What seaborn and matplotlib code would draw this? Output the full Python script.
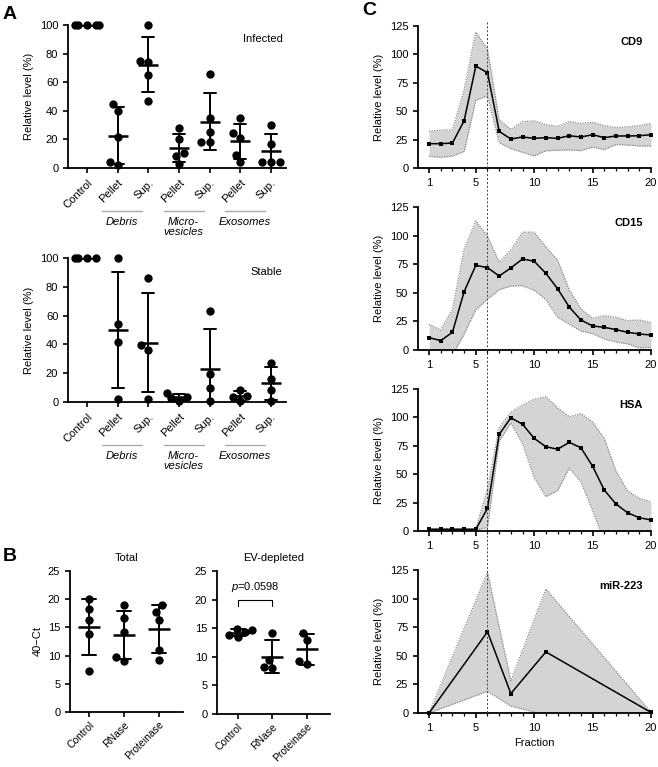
import numpy as np
import pandas as pd
import matplotlib
matplotlib.use("Agg")
import matplotlib.pyplot as plt
from matplotlib.lines import Line2D
from matplotlib.transforms import blended_transform_factory
from matplotlib.ticker import MultipleLocator
import seaborn as sns

sns.set_theme(style="ticks", rc={"axes.edgecolor": "black", "text.color": "black",
                                 "xtick.color": "black", "ytick.color": "black",
                                 "axes.labelcolor": "black"})
plt.rcParams["font.family"] = ["Liberation Sans", "DejaVu Sans"]
plt.rcParams["font.size"] = 8
plt.rcParams["axes.labelsize"] = 8
plt.rcParams["xtick.labelsize"] = 8
plt.rcParams["ytick.labelsize"] = 8
plt.rcParams["axes.titlesize"] = 8
plt.rcParams["axes.linewidth"] = 1.3
plt.rcParams["xtick.major.width"] = 1.2
plt.rcParams["ytick.major.width"] = 1.2
plt.rcParams["xtick.major.size"] = 3.5
plt.rcParams["ytick.major.size"] = 3.5
plt.rcParams["mathtext.fontset"] = "custom"
plt.rcParams["mathtext.rm"] = "Liberation Sans"
plt.rcParams["mathtext.it"] = "Liberation Sans:italic"

# ---- Panel A: relative level per fraction (infected / stable)
a_groups = ["Control", "Debris Pellet", "Debris Sup.", "MV Pellet", "MV Sup.",
            "Exo Pellet", "Exo Sup."]
a_ticklabels = ["Control", "Pellet", "Sup.", "Pellet", "Sup.", "Pellet", "Sup."]
a_sets = ["Debris", "Micro-\nvesicles", "Exosomes"]

inf_control = [100, 100, 100, 100, 100]
inf_debris_pellet = [40, 45, 22, 2, 4.5]
inf_debris_sup = [100, 74, 75, 65, 47]
inf_mv_pellet = [28, 20, 10.5, 8.5, 3]
inf_mv_sup = [66, 35, 25, 18, 18]
inf_exo_pellet = [35, 24.5, 21, 9, 4]
inf_exo_sup = [30, 17, 4, 4, 4]

sta_control = [100, 100, 100, 100]
sta_debris_pellet = [100, 54.5, 42, 2.3]
sta_debris_sup = [86, 39.8, 36.3, 2.3]
sta_mv_pellet = [3.5, 1, 2.5, 6]
sta_mv_sup = [63, 19.4, 9.4, 0.5]
sta_exo_pellet = [8.5, 4, 3.5, 0.5]
sta_exo_sup = [27.4, 15.7, 8.2, 0.5]

# ---- Panel B: 40-Ct after treatment
b_groups = ["Control", "RNase", "Proteinase"]
tot_control = [20.1, 18.2, 16.3, 13.8, 7.2]
tot_rnase = [19.0, 16.6, 14.1, 9.8, 9.1]
tot_proteinase = [18.9, 17.8, 16.4, 11.0, 9.3]
ev_control = [14.6, 14.9, 14.3, 13.4, 13.8]
ev_rnase = [14.2, 9.4, 8.1, 8.2]
ev_proteinase = [14.2, 12.9, 9.3, 8.8]
p_label = "$p$=0.0598"

# ---- Panel C: SEC fractions, mean and SD
fractions = list(range(1, 21))
cd9_mean = [21.4, 21.4, 22.0, 41.6, 89.7, 83.9, 32.3, 25.5, 27.3, 26.1,
            26.7, 26.1, 28.4, 27.3, 29.3, 26.7, 28.2, 28.2, 28.4, 29.3]
cd9_sd = [11, 12, 11.5, 27, 30, 20.5, 10, 8.5, 13.5, 15.5,
          11.5, 10.5, 12.5, 12, 11, 10.5, 7.5, 8, 9, 10]
cd15_mean = [10.8, 8.2, 15.5, 51, 74, 72, 64.7, 71.7, 79.6, 77.6,
             67, 53.6, 37.6, 26.2, 21, 19.8, 17.8, 15.5, 14, 13.1]
cd15_sd = [11.6, 9.3, 20, 37, 38.8, 27.5, 12, 15.8, 23.4, 25.4,
           23, 25, 15, 9.7, 6.7, 10.2, 10.8, 10.2, 12.2, 10.8]
hsa_mean = [1.5, 1.5, 1.5, 1.5, 1.5, 20, 85, 99.7, 94, 81.5,
            74.2, 72, 78, 73.3, 57, 36, 23.8, 16, 11.7, 9.7]
hsa_sd = [0.5, 0.5, 0.5, 0.5, 0.5, 17, 6, 4.7, 17, 34.5,
          44, 36.5, 22.6, 30, 39, 45.5, 29, 19.2, 17, 16.1]
mir_fractions = [1, 6, 8, 11, 20]
mir_mean = [0, 71, 17, 53.4, 0.5]
mir_sd = [0, 52, 11, 55, 0]
void_fraction = 6


def long_form(groups, values):
    return pd.DataFrame({"group": np.repeat(groups, [len(v) for v in values]),
                         "value": np.concatenate(values)})


fig = plt.figure(figsize=(6.58, 7.67), dpi=100)
W, H = 658, 767


def px_axes(x0, y0, x1, y1):
    return fig.add_axes([x0 / W, 1 - y1 / H, (x1 - x0) / W, (y1 - y0) / H])


def dot_panel(ax, df, order, ticklabels, bar, fs):
    sns.swarmplot(data=df, x="group", y="value", order=order, color="black",
                  size=6, warn_thresh=1, ax=ax, clip_on=False, zorder=3)
    sns.pointplot(data=df, x="group", y="value", order=order, errorbar="sd",
                  capsize=0.4, color="black", linestyle="none", marker="_",
                  markersize=bar, markeredgewidth=1.8,
                  err_kws={"linewidth": 1.4}, ax=ax, zorder=4)
    ax.set_xticks(range(len(order)))
    ax.set_xticklabels(ticklabels, rotation=45, ha="right",
                       rotation_mode="anchor", fontsize=fs)
    ax.set_xlabel("")
    sns.despine(ax=ax)


# Panel A
inf_df = long_form(a_groups, [inf_control, inf_debris_pellet, inf_debris_sup,
                              inf_mv_pellet, inf_mv_sup, inf_exo_pellet, inf_exo_sup])
sta_df = long_form(a_groups, [sta_control, sta_debris_pellet, sta_debris_sup,
                              sta_mv_pellet, sta_mv_sup, sta_exo_pellet, sta_exo_sup])
axA1 = px_axes(68, 25, 286, 168)
axA2 = px_axes(68, 258, 286, 402)
for ax, df, name in [(axA1, inf_df, "Infected"), (axA2, sta_df, "Stable")]:
    dot_panel(ax, df, a_groups, a_ticklabels, 15, 8)
    ax.set_ylim(0, 100)
    ax.set_yticks(range(0, 101, 20))
    ax.set_xlim(-0.62, 6.49)
    ax.set_ylabel("Relative level (%)")
    ax.text(0.985, 0.9, name, transform=ax.transAxes, ha="right", va="center")
    trans = ax.get_xaxis_transform()
    for i, label in enumerate(a_sets):
        c = 2 * i + 1.5 - 0.35
        ax.plot([c - 0.65, c + 0.65], [-0.30, -0.30], transform=trans,
                color="#aaaaaa", lw=1, clip_on=False)
        ax.text(c, -0.34, label, transform=trans, ha="center", va="top",
                style="italic", linespacing=1.0)

# Panel B
tot_df = long_form(b_groups, [tot_control, tot_rnase, tot_proteinase])
ev_df = long_form(b_groups, [ev_control, ev_rnase, ev_proteinase])
axB1 = px_axes(70, 571, 183, 712)
axB2 = px_axes(217, 571, 330, 714)
for ax, df, name, xl in [(axB1, tot_df, "Total", (-0.54, 2.69)),
                         (axB2, ev_df, "EV-depleted", (-0.6, 2.67))]:
    dot_panel(ax, df, b_groups, b_groups, 16, 7.5)
    ax.tick_params(axis="x", pad=2)
    ax.set_ylim(0, 25)
    ax.set_yticks(range(0, 26, 5))
    ax.set_xlim(*xl)
    ax.set_ylabel("")
    ax.set_title(name, pad=7)
axB1.set_ylabel("40\u2212Ct")
axB2.plot([0, 0, 1, 1], [18.8, 20, 20, 18.8], color="black", lw=0.8)
axB2.text(0.5, 20.9, p_label, ha="center", va="bottom")

# Panel C
c_boxes = [(418, 26, 651, 168), (418, 207, 651, 350),
           (418, 389, 651, 531), (418, 570, 651, 713)]
c_series = [("CD9", fractions, cd9_mean, cd9_sd),
            ("CD15", fractions, cd15_mean, cd15_sd),
            ("HSA", fractions, hsa_mean, hsa_sd),
            ("miR-223", mir_fractions, mir_mean, mir_sd)]
c_axes = []
for box, (name, x, m, s) in zip(c_boxes, c_series):
    ax = px_axes(*box)
    c_axes.append(ax)
    x = np.asarray(x)
    m = np.asarray(m)
    s = np.asarray(s)
    ax.fill_between(x, m - s, m + s, color="#d4d4d4", lw=0)
    ax.plot(x, m + s, color="#8a8a8a", lw=0.9, linestyle=(0, (1, 1)))
    ax.plot(x, m - s, color="#8a8a8a", lw=0.9, linestyle=(0, (1, 1)))
    sns.lineplot(x=x, y=m, color="black", lw=1.1, marker="s", markersize=2.3,
                 markeredgewidth=0, ax=ax, clip_on=False, zorder=4)
    ax.set_xlim(0.05, 20)
    ax.set_ylim(0, 125)
    ax.set_xticks([1, 5, 10, 15, 20])
    ax.xaxis.set_minor_locator(MultipleLocator(1))
    ax.tick_params(axis="x", which="minor", length=2, width=0.9)
    ax.set_yticks(range(0, 126, 25))
    ax.set_ylabel("Relative level (%)")
    ax.text(0.965, 0.885, name, transform=ax.transAxes, ha="right",
            va="center", weight="bold")
    sns.despine(ax=ax)
c_axes[-1].set_xlabel("Fraction")

# dashed marker of the void fraction, running through all four C panels
vtrans = blended_transform_factory(c_axes[0].transData, fig.transFigure)
fig.add_artist(Line2D([void_fraction, void_fraction], [1 - 22 / H, 1 - 713 / H],
                      transform=vtrans, color="0.25", lw=0.7,
                      linestyle=(0, (2, 2)), zorder=10))

fig.text(3 / W, 1 - 6 / H, "A", fontsize=14, weight="bold", ha="left", va="top")
fig.text(3 / W, 1 - 548 / H, "B", fontsize=14, weight="bold", ha="left", va="top")
fig.text(362 / W, 1 - 2 / H, "C", fontsize=14, weight="bold", ha="left", va="top")

fig.savefig("out.png", dpi=100)
